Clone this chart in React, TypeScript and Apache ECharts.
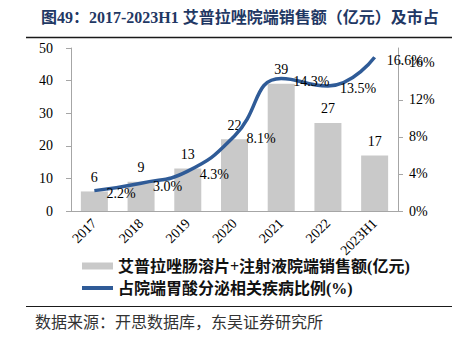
import React, { useEffect, useRef } from "react";
import * as echarts from "echarts";

const categories = ["2017", "2018", "2019", "2020", "2021", "2022", "2023H1"];
const salesValues = [6, 9, 13, 22, 39, 27, 17];
const shareValues = [2.2, 3.0, 4.3, 8.1, 14.3, 13.5, 16.6];
const leftTicks = [0, 10, 20, 30, 40, 50];
const rightTicks = [0, 4, 8, 12, 16];
const barName = "艾普拉唑肠溶片+注射液院端销售额(亿元)";
const lineName = "占院端胃酸分泌相关疾病比例(%)";
const titleText = "图49：2017-2023H1 艾普拉唑院端销售额（亿元）及市占";
const sourceText = "数据来源：开思数据库，东吴证券研究所";

const SERIF = "'Liberation Serif', 'Times New Roman', 'Noto Serif CJK SC', 'Noto Sans CJK SC', serif";
const CJK = "'Liberation Serif', 'Noto Sans CJK SC', sans-serif";

export default function App() {
  const ref = useRef<HTMLDivElement>(null);
  useEffect(() => {
    if (!ref.current) return;
    const chart = echarts.init(ref.current, undefined, { renderer: "svg" });
    const axisColor = "#a6a6a6";
    chart.setOption({
      animation: false,
      backgroundColor: "#ffffff",
      title: {
        text: titleText,
        left: 36,
        top: 4,
        textStyle: { fontSize: 16, fontWeight: "bold", color: "#1f3864", fontFamily: CJK },
      },
      grid: { left: 71, right: 54, top: 48, bottom: 128 },
      legend: [
        {
          data: [{ name: barName, icon: "rect" }],
          left: 77,
          top: 253,
          itemWidth: 31,
          itemHeight: 7,
          itemGap: 4,
          textStyle: { fontSize: 16, fontWeight: "bold", color: "#111", fontFamily: CJK },
          selectedMode: false,
        },
        {
          data: [{ name: lineName, icon: "rect" }],
          left: 77,
          top: 275,
          itemWidth: 31,
          itemHeight: 4,
          itemGap: 4,
          textStyle: { fontSize: 16, fontWeight: "bold", color: "#111", fontFamily: CJK },
          selectedMode: false,
        },
      ],
      xAxis: {
        type: "category",
        data: categories,
        axisLine: { lineStyle: { color: axisColor, width: 1 } },
        axisTick: { show: false },
        axisLabel: { rotate: 45, fontSize: 14, color: "#000", fontFamily: SERIF, margin: 10 },
      },
      yAxis: [
        {
          type: "value",
          min: 0,
          max: 50,
          interval: 10,
          axisLine: { show: true, lineStyle: { color: axisColor } },
          axisTick: { show: true, length: 5, lineStyle: { color: axisColor } },
          splitLine: { show: false },
          axisLabel: {
            fontSize: 14,
            color: "#000",
            fontFamily: SERIF,
            margin: 18,
            customValues: leftTicks,
          },
        },
        {
          type: "value",
          min: 0,
          max: 17.6,
          interval: 4,
          position: "right",
          axisLine: { show: true, lineStyle: { color: axisColor } },
          axisTick: { show: true, length: 5, lineStyle: { color: axisColor }, customValues: rightTicks },
          splitLine: { show: false },
          axisLabel: {
            fontSize: 14,
            color: "#000",
            fontFamily: SERIF,
            margin: 11,
            formatter: "{value}%",
            customValues: rightTicks,
          },
        },
      ],
      series: [
        {
          name: barName,
          type: "bar",
          data: salesValues,
          barWidth: 27,
          itemStyle: { color: "#c9c9c9" },
          label: {
            show: true,
            position: "top",
            distance: 7,
            fontSize: 14,
            color: "#000",
            fontFamily: SERIF,
          },
        },
        {
          name: lineName,
          type: "line",
          yAxisIndex: 1,
          data: shareValues,
          smooth: 0.5,
          symbol: "circle",
          symbolSize: 0.1,
          showSymbol: true,
          lineStyle: { color: "#2f5b97", width: 3.5 },
          itemStyle: { color: "#2f5b97" },
          label: {
            show: true,
            position: "right",
            distance: 12,
            offset: [0, 3],
            fontSize: 14,
            color: "#000",
            fontFamily: SERIF,
            formatter: (p: any) => Number(p.value).toFixed(1) + "%",
          },
        },
      ],
      graphic: [
        {
          type: "line",
          shape: { x1: 26, y1: 37.5, x2: 452, y2: 37.5 },
          style: { stroke: "#1a1a1a", lineWidth: 1.5 },
        },
        {
          type: "line",
          shape: { x1: 26, y1: 306.5, x2: 452, y2: 306.5 },
          style: { stroke: "#1a1a1a", lineWidth: 1.2 },
        },
        {
          type: "text",
          left: 35,
          top: 314,
          style: { text: sourceText, fontSize: 16, fill: "#333", fontFamily: CJK },
        },
      ],
    });
    return () => chart.dispose();
  }, []);
  return (
    <div
      ref={ref}
      style={{ position: "fixed", left: 0, top: 0, width: 452, height: 339, background: "#fff" }}
    />
  );
}
